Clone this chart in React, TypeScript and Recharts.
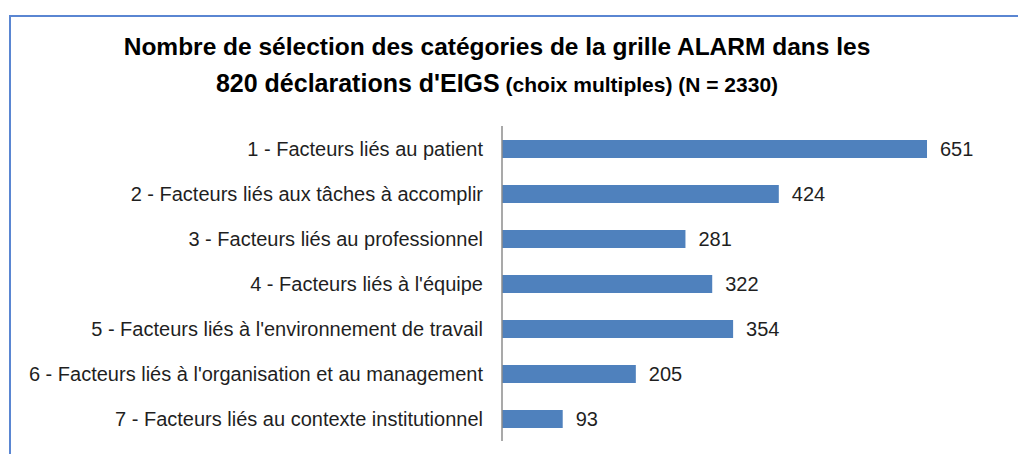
import { BarChart, Bar, XAxis, YAxis, LabelList } from "recharts";

const categories = [
  "1 - Facteurs liés au patient",
  "2 - Facteurs liés aux tâches à accomplir",
  "3 - Facteurs liés au professionnel",
  "4 - Facteurs liés à l'équipe",
  "5 - Facteurs liés à l'environnement de travail",
  "6 - Facteurs liés à l'organisation et au management",
  "7 - Facteurs liés au contexte institutionnel",
];
const selections = [651, 424, 281, 322, 354, 205, 93];

const titleLine1 = "Nombre de sélection des catégories de la grille ALARM dans les";
const titleLine2 = "820 déclarations d'EIGS";
const titleNote = "(choix multiples) (N = 2330)";

const data = categories.map((name, i) => ({ name, value: selections[i] }));

const font = "'Liberation Sans', Arial, sans-serif";

export default function App() {
  return (
    <div
      style={{
        position: "absolute",
        left: 0,
        top: 0,
        width: 1018,
        height: 454,
        background: "#fff",
        fontFamily: font,
        overflow: "hidden",
      }}
    >
      {/* frame: only top and left edges are visible in the crop */}
      <div style={{ position: "absolute", left: 9, top: 15, width: 1009, height: 2, background: "#5a86d2" }} />
      <div style={{ position: "absolute", left: 9, top: 15, width: 2, height: 439, background: "#5a86d2" }} />

      <BarChart
        width={1018}
        height={454}
        layout="vertical"
        data={data}
        margin={{ top: 126, right: 59, bottom: 13, left: 0 }}
        style={{ position: "absolute", left: 0, top: 0 }}
      >
        <XAxis type="number" domain={[0, 700]} hide />
        <YAxis
          type="category"
          dataKey="name"
          width={502}
          interval={0}
          axisLine={{ stroke: "#8c8c8c", strokeWidth: 1.5 }}
          tickLine={false}
          tickSize={0}
          tickMargin={19}
          tick={{ fill: "#1f1f1f", fontSize: 20, fontFamily: font }}
        />
        <Bar dataKey="value" fill="#4f81bd" barSize={18} isAnimationActive={false}>
          <LabelList dataKey="value" position="right" offset={13} fill="#1f1f1f" fontSize={20} fontFamily={font} />
        </Bar>
      </BarChart>

      <svg width={1018} height={110} style={{ position: "absolute", left: 0, top: 0 }}>
        <text x={497} y={55} textAnchor="middle" fontFamily={font} fontWeight="bold" fontSize={24.5} fill="#000">
          {titleLine1}
        </text>
        <text x={497} y={92} textAnchor="middle" fontFamily={font} fontWeight="bold" fill="#000">
          <tspan fontSize={25}>{titleLine2}</tspan>
          <tspan fontSize={21}>{"  " + titleNote}</tspan>
        </text>
      </svg>
    </div>
  );
}
